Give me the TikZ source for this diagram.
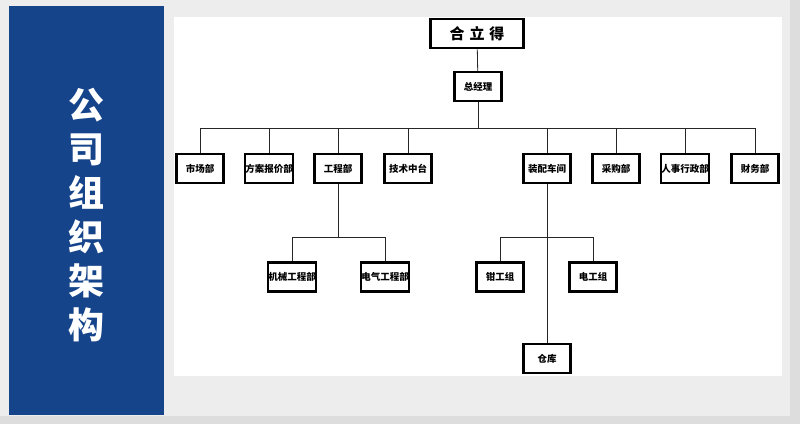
\documentclass[tikz,border=0pt]{standalone}
\usepackage{xcolor}
\usepackage{fontspec}
\newfontfamily\cjk{Noto Sans CJK SC}
\usepackage{tikz}
\usetikzlibrary{positioning}
\definecolor{panelblue}{HTML}{15448A}
\definecolor{slidegray}{HTML}{EDEDED}
\definecolor{outergray}{HTML}{DDDDDD}
\tikzset{
  unit/.style={draw, rectangle, line width=2.2pt, fill=white, minimum width=47pt, minimum height=29pt, inner sep=0pt, align=center, font=\cjk\bfseries\fontsize{9.5}{11}\selectfont},
  link/.style={draw=black!85, line width=0.8pt}
}

\begin{document}
\begin{tikzpicture}[x=1pt, y=-1pt]
        % Background of the slide
        \useasboundingbox (0,0) rectangle (800,424);
        \fill[outergray] (0,0) rectangle (800,424);
        \fill[slidegray] (0,0) rectangle (790,416);
        \fill[panelblue] (9,6) rectangle (164,415);
        \fill[white] (174,17) rectangle (782,376);

        % Title on the blue panel
        \node[text=white, align=center, font=\cjk\bfseries\fontsize{36}{44}\selectfont] (title) at (86,215) {公\\司\\组\\织\\架\\构};

        % Top of the tree
        \node[unit, minimum width=93pt, line width=2.6pt, font=\cjk\bfseries\fontsize{15}{17}\selectfont] (company) at (477,33.5) {合\hspace{5pt}立\hspace{5pt}得};
        \node[unit] (gm) at (478,86.5) {总经理};

        % Departments
        \node[unit] (market) at (200,168.5) {市场部};
        \node[unit] (quote) at (269,168.5) {方案报价部};
        \node[unit] (eng) at (338,168.5) {工程部};
        \node[unit] (tech) at (408,168.5) {技术中台};
        \node[unit] (assembly) at (547,168.5) {装配车间};
        \node[unit] (purchase) at (616,168.5) {采购部};
        \node[unit] (hr) at (685,168.5) {人事行政部};
        \node[unit] (finance) at (755,168.5) {财务部};

        % Sub-units
        \node[unit] (mech) at (292,277) {机械工程部};
        \node[unit] (elec) at (385,277) {电气工程部};
        \node[unit] (fitter) at (500,277) {钳工组};
        \node[unit] (electrician) at (593,277) {电工组};
        \node[unit] (store) at (547,358.5) {仓库};

        % Bus points
        \coordinate (deptbus) at (478,128);
        \coordinate (engbus) at (338,237);
        \coordinate (asmbus) at (547,237);

        % Connectors
        \draw[link] (company) -- (gm);
        \draw[link] (gm) -- (deptbus);
        \foreach \d in {market,quote,eng,tech,assembly,purchase,hr,finance}
          \draw[link] (deptbus) -| (\d);
        \draw[link] (eng) -- (engbus);
        \draw[link] (engbus) -| (mech);
        \draw[link] (engbus) -| (elec);
        \draw[link] (assembly) -- (store);
        \draw[link] (asmbus) -| (fitter);
        \draw[link] (asmbus) -| (electrician);
    \end{tikzpicture}
\end{document}
